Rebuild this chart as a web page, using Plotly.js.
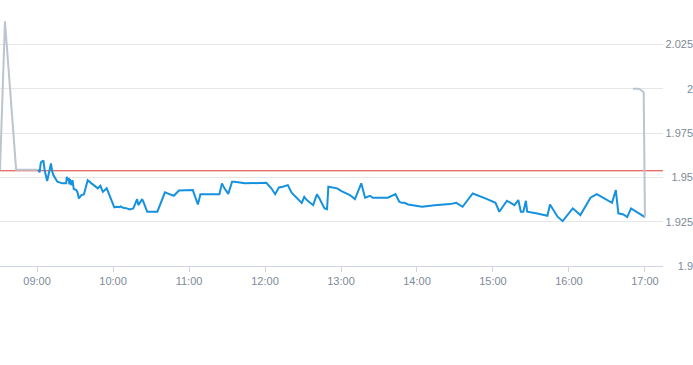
<!DOCTYPE html>
<html>
<head>
<meta charset="utf-8">
<script src="https://cdn.plot.ly/plotly-3.0.1.min.js"></script>
<style>html,body{margin:0;padding:0;background:#fff;}#chart{width:693px;height:365px;}</style>
</head>
<body>
<div id="chart"></div>
<script>
const day = "2024-01-02 ";
const preTimes = ["08:30:45","08:34:40","08:43:30","09:00"];
const preValues = [1.954,2.038,1.9543,1.9543];
const sessionTimes = ["09:01","09:02","09:03","09:05","09:06","09:07","09:08","09:11","09:12","09:13","09:16","09:20","09:23","09:23:30","09:24","09:25","09:25:30","09:26","09:27","09:28","09:29","09:31","09:32","09:33","09:35","09:37","09:40","09:43","09:48","09:50","09:52","09:55","09:59","10:01","10:03","10:05","10:06","10:08","10:11","10:13","10:16","10:19","10:20","10:23","10:24","10:27","10:35","10:41","10:45","10:48","10:52","10:57","11:03","11:07","11:09","11:17","11:24","11:26","11:28","11:31","11:34","11:36","11:42","11:44","12:01","12:05","12:08","12:11","12:14","12:18","12:21","12:24","12:29","12:31","12:33","12:38","12:41","12:43","12:47","12:49","12:50","12:57","13:00","13:07","13:11","13:16","13:19","13:23","13:25","13:37","13:43","13:46","13:48","13:50","13:53","14:04","14:14","14:26","14:31","14:36","14:44","14:54","15:02","15:05","15:11","15:17","15:20","15:22","15:24","15:26","15:27","15:34","15:43","15:45","15:49","15:51","15:55","16:03","16:09","16:17","16:22","16:34","16:37","16:39","16:43","16:46","16:49","16:53","17:00"];
const sessionValues = [1.9545,1.9528,1.9584,1.9595,1.954,1.9516,1.9479,1.9578,1.9531,1.9512,1.9475,1.9466,1.9466,1.9503,1.9484,1.9497,1.946,1.949,1.9456,1.9484,1.9434,1.9428,1.9415,1.9381,1.94,1.9404,1.9484,1.9466,1.9438,1.9452,1.9418,1.9438,1.9362,1.9331,1.9334,1.9331,1.9336,1.9328,1.9325,1.9319,1.9325,1.9377,1.9343,1.9377,1.9362,1.9306,1.9306,1.9415,1.9404,1.9396,1.9426,1.9428,1.9428,1.9347,1.9404,1.9404,1.9405,1.9466,1.9438,1.9407,1.9475,1.9475,1.9466,1.9466,1.9469,1.9438,1.9405,1.9443,1.9447,1.9456,1.9413,1.939,1.9356,1.939,1.9372,1.9343,1.9404,1.9381,1.9325,1.9321,1.9447,1.9438,1.9424,1.94,1.9377,1.9466,1.9385,1.9396,1.9385,1.9385,1.9405,1.9362,1.9356,1.9356,1.9347,1.9334,1.9343,1.9349,1.9356,1.9334,1.9409,1.9381,1.9356,1.9306,1.9368,1.9343,1.9372,1.9306,1.9306,1.9368,1.9306,1.9297,1.9283,1.9347,1.9306,1.9278,1.9253,1.9325,1.9287,1.9385,1.9405,1.9356,1.9428,1.9297,1.9291,1.9276,1.9325,1.9306,1.9276];
const postTimes = ["16:50:30","16:55","16:57","16:59","17:00"];
const postValues = [2.0,2.0,1.9991,1.998,1.9276];
const prevClose = 1.9537;
const yTickVals = [1.9,1.925,1.95,1.975,2,2.025];
const yTickText = ["1.9","1.925","1.95","1.975","2","2.025"];
const xRange = ["08:30:45","17:14:15"];

const toDate = a => a.map(t => day + t);
const labelFont = {family: "Liberation Sans, Arial, sans-serif", size: 11, color: "#7e8a96"};

const traces = [
  {x: toDate(preTimes), y: preValues, type: "scatter", mode: "lines", line: {color: "#bcc5cd", width: 2}, hoverinfo: "skip"},
  {x: toDate(sessionTimes), y: sessionValues, type: "scatter", mode: "lines", line: {color: "#1591de", width: 2}},
  {x: toDate(postTimes), y: postValues, type: "scatter", mode: "lines", line: {color: "#bcc5cd", width: 2}, hoverinfo: "skip"}
];

const layout = {
  width: 693, height: 365,
  margin: {l: 0, r: 0, t: 0, b: 99, pad: 0},
  paper_bgcolor: "#fff", plot_bgcolor: "#fff",
  showlegend: false,
  xaxis: {
    type: "date", domain: [0, 663/693], range: toDate(xRange),
    tickformat: "%H:%M", dtick: 3600000, tick0: day + "09:00",
    ticks: "outside", ticklen: 5, tickcolor: "#ccd6eb",
    showline: true, linecolor: "#ccd6eb", linewidth: 1,
    showgrid: false, zeroline: false, tickfont: labelFont
  },
  yaxis: {
    range: [1.9, 2.05], anchor: "free", position: 1, side: "left",
    tickvals: yTickVals, ticktext: yTickText,
    showgrid: true, gridcolor: "#e6e6e6", gridwidth: 1,
    showline: false, zeroline: false, ticks: "", tickfont: labelFont
  },
  shapes: [{type: "line", xref: "paper", x0: 0, x1: 663/693, yref: "y", y0: prevClose, y1: prevClose,
            line: {color: "#e0392d", width: 1}, layer: "below"}]
};

Plotly.newPlot("chart", traces, layout, {displayModeBar: false, staticPlot: true});
</script>
</body>
</html>
